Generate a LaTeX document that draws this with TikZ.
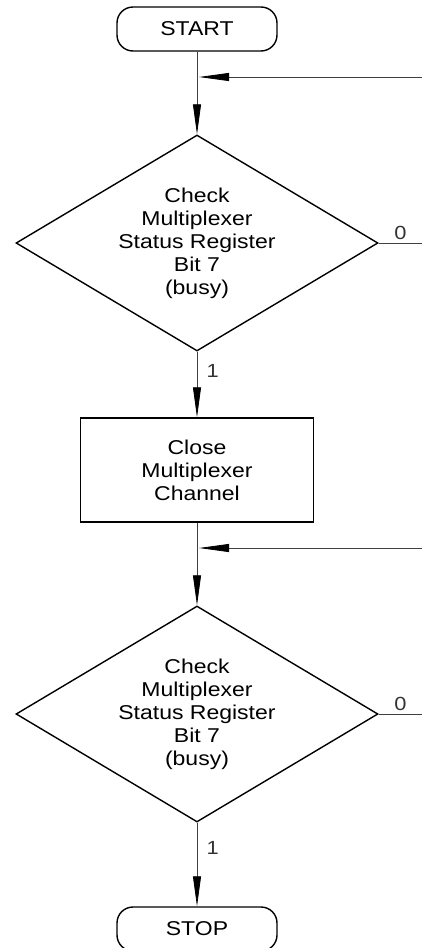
\documentclass[tikz,border=0pt]{standalone}
\usepackage{fontspec}
\setmainfont{Liberation Sans}[FakeStretch=1.15]
\usetikzlibrary{arrows.meta,shapes.geometric}
\begin{document}
\begin{tikzpicture}[x=1pt,y=1pt,font=\fontsize{20}{23}\selectfont,
  terminal/.style={draw,line width=1.4pt,rounded corners=16pt,minimum width=160pt,minimum height=44pt,inner sep=0pt},
  test/.style={draw,diamond,line width=1.4pt,shape aspect=1.676,minimum width=362pt,minimum height=216pt,inner sep=0pt,align=center},
  process/.style={draw,line width=1.4pt,minimum width=233pt,minimum height=104pt,inner sep=0pt,align=center},
  wire/.style={line width=0.8pt,black!75},
  flow/.style={wire,-{Triangle[length=30pt,width=8pt,black]}},
  bit/.style={font=\fontsize{19}{21}\selectfont,text=black!80}]
      \useasboundingbox (0,0) rectangle (422,-948);
      \node[terminal] (start) at (197,-29) {START};
      \node[test] (busy1) at (197,-243) {Check\\Multiplexer\\Status Register\\Bit 7\\(busy)};
      \node[process] (close) at (197,-470) {Close\\Multiplexer\\Channel};
      \node[test] (busy2) at (197,-714) {Check\\Multiplexer\\Status Register\\Bit 7\\(busy)};
      \node[terminal] (stop) at (197,-929) {STOP};
      % loop back entries from the right
      \coordinate (back1) at (422,-77);
      \coordinate (join1) at (199,-77);
      \coordinate (back2) at (422,-548);
      \coordinate (join2) at (199,-548);
      \coordinate (out1) at (422,-243);
      \coordinate (out2) at (422,-714);
      \draw[flow] (start.south) -- (busy1.north);
      \draw[flow] (back1) -- (join1);
      \draw[wire] (busy1.east) -- node[above,bit] {0} (out1);
      \draw[flow] (busy1.south) -- node[right=6pt,pos=0.3,bit] {1} (close.north);
      \draw[flow] (close.south) -- (busy2.north);
      \draw[flow] (back2) -- (join2);
      \draw[wire] (busy2.east) -- node[above,bit] {0} (out2);
      \draw[flow] (busy2.south) -- node[right=6pt,pos=0.3,bit] {1} (stop.north);
\end{tikzpicture}
\end{document}
